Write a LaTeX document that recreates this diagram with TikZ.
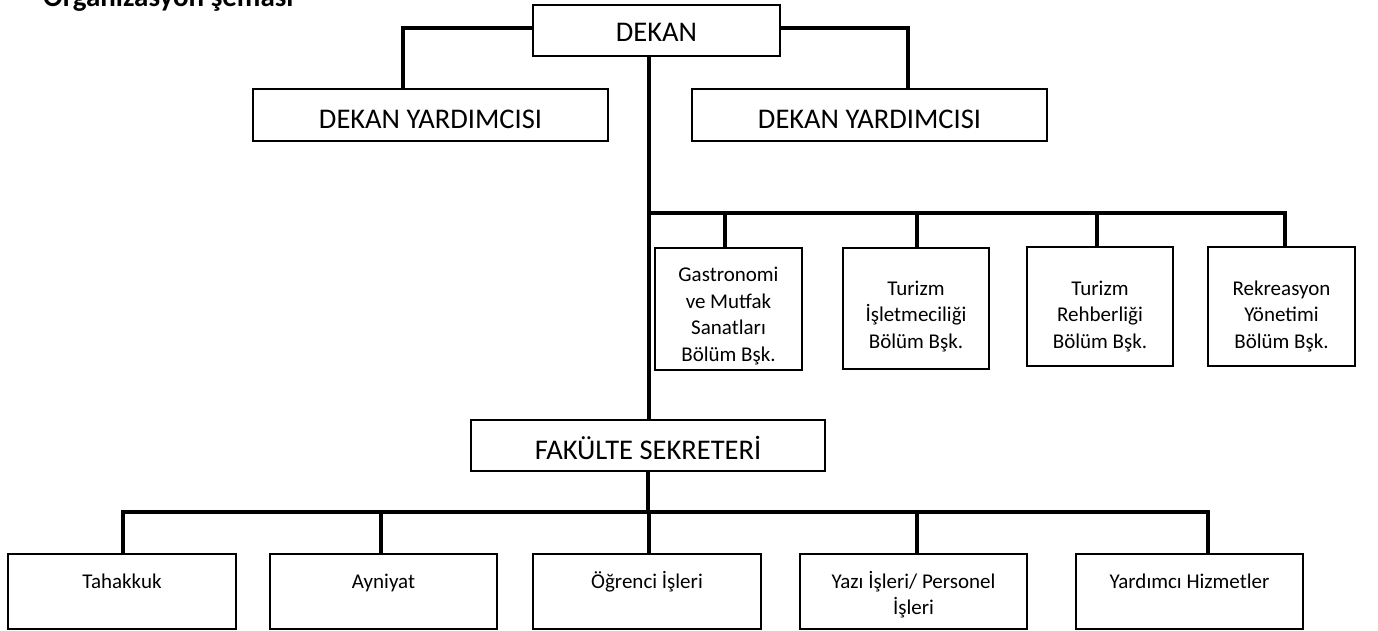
\documentclass[tikz,border=0pt]{standalone}
\usepackage{fontspec}
\setmainfont{Carlito}
\begin{document}
\begin{tikzpicture}[x=1pt,y=-1pt,
  conn/.style={line width=4pt,black},
  box/.style={draw=black,line width=2.2pt,fill=white,inner xsep=2pt,inner ysep=0pt},
  bigbox/.style={box,font=\fontsize{28.5}{34}\selectfont,text height=39pt,text depth=12pt},
  dept/.style={box,font=\fontsize{21}{26.5}\selectfont,align=center},
  lowbox/.style={box,font=\fontsize{21}{26.5}\selectfont,align=center,text height=34pt,text depth=41pt,minimum height=75pt}
]
\useasboundingbox (0,0) rectangle (1378,630);
\node[anchor=base west,inner sep=0pt,font=\bfseries\fontsize{29}{34}\selectfont] (title) at (43,6) {Organizasyon şeması};

\node[bigbox,minimum width=247pt,minimum height=51pt,text height=36pt,text depth=15pt] (dekan) at (656.5,30.5) {DEKAN};
\node[bigbox,minimum width=355pt,minimum height=52pt] (dy1) at (430.5,115) {DEKAN YARDIMCISI};
\node[bigbox,minimum width=355pt,minimum height=52pt] (dy2) at (869.5,115) {DEKAN YARDIMCISI};
\node[bigbox,minimum width=354pt,minimum height=51pt] (fs) at (648,445.5) {FAKÜLTE SEKRETERİ};

\node[dept,minimum width=147pt,text height=113pt,text depth=9pt] (g) at (728.5,309) {Gastronomi\\ve Mutfak\\Sanatları\\Bölüm Bşk.};
\node[dept,minimum width=146pt,text height=100pt,text depth=21pt] (ti) at (916,308.5) {Turizm\\İşletmeciliği\\Bölüm Bşk.};
\node[dept,minimum width=146pt,text height=101pt,text depth=18pt] (tr) at (1100,306.5) {Turizm\\Rehberliği\\Bölüm Bşk.};
\node[dept,minimum width=147pt,text height=101pt,text depth=18pt] (rk) at (1281.5,306.5) {Rekreasyon\\Yönetimi\\Bölüm Bşk.};

\node[lowbox,minimum width=228pt] (t) at (122,591.5) {Tahakkuk};
\node[lowbox,minimum width=227pt] (ay) at (383.5,591.5) {Ayniyat};
\node[lowbox,minimum width=228pt] (og) at (647,591.5) {Öğrenci İşleri};
\node[lowbox,minimum width=227pt,text height=60.5pt,text depth=14.5pt] (yz) at (913.5,591.5) {Yazı İşleri/ Personel\\İşleri};
\node[lowbox,minimum width=227pt] (yr) at (1189.5,591.5) {Yardımcı Hizmetler};

\coordinate (bar) at (649,213);
\coordinate (bb) at (648,512);

% top level
\draw[conn] ([yshift=2.5pt]dekan.west) -| ([xshift=-27.5pt]dy1.north);
\draw[conn] ([yshift=2.5pt]dekan.east) -| ([xshift=38.5pt]dy2.north);
\draw[conn] (dekan.south -| bar) -- (fs.north -| bar);

% departments
\draw[conn] (bar) -| ([xshift=3.5pt]rk.north);
\draw[conn] ([xshift=-3.5pt]g.north) -- ([xshift=-3.5pt]g.north |- bar);
\draw[conn] ([xshift=1pt]ti.north) -- ([xshift=1pt]ti.north |- bar);
\draw[conn] ([xshift=-3pt]tr.north) -- ([xshift=-3pt]tr.north |- bar);

% secretary units
\draw[conn] (fs.south) -- (bb);
\draw[conn] ([xshift=1pt]t.north) |- ([xshift=18.5pt]yr.north |- bb) -- ([xshift=18.5pt]yr.north);
\draw[conn] ([xshift=-2.5pt]ay.north) -- ([xshift=-2.5pt]ay.north |- bb);
\draw[conn] ([xshift=2pt]og.north) -- ([xshift=2pt]og.north |- bb);
\draw[conn] ([xshift=3.5pt]yz.north) -- ([xshift=3.5pt]yz.north |- bb);
\end{tikzpicture}
\end{document}
